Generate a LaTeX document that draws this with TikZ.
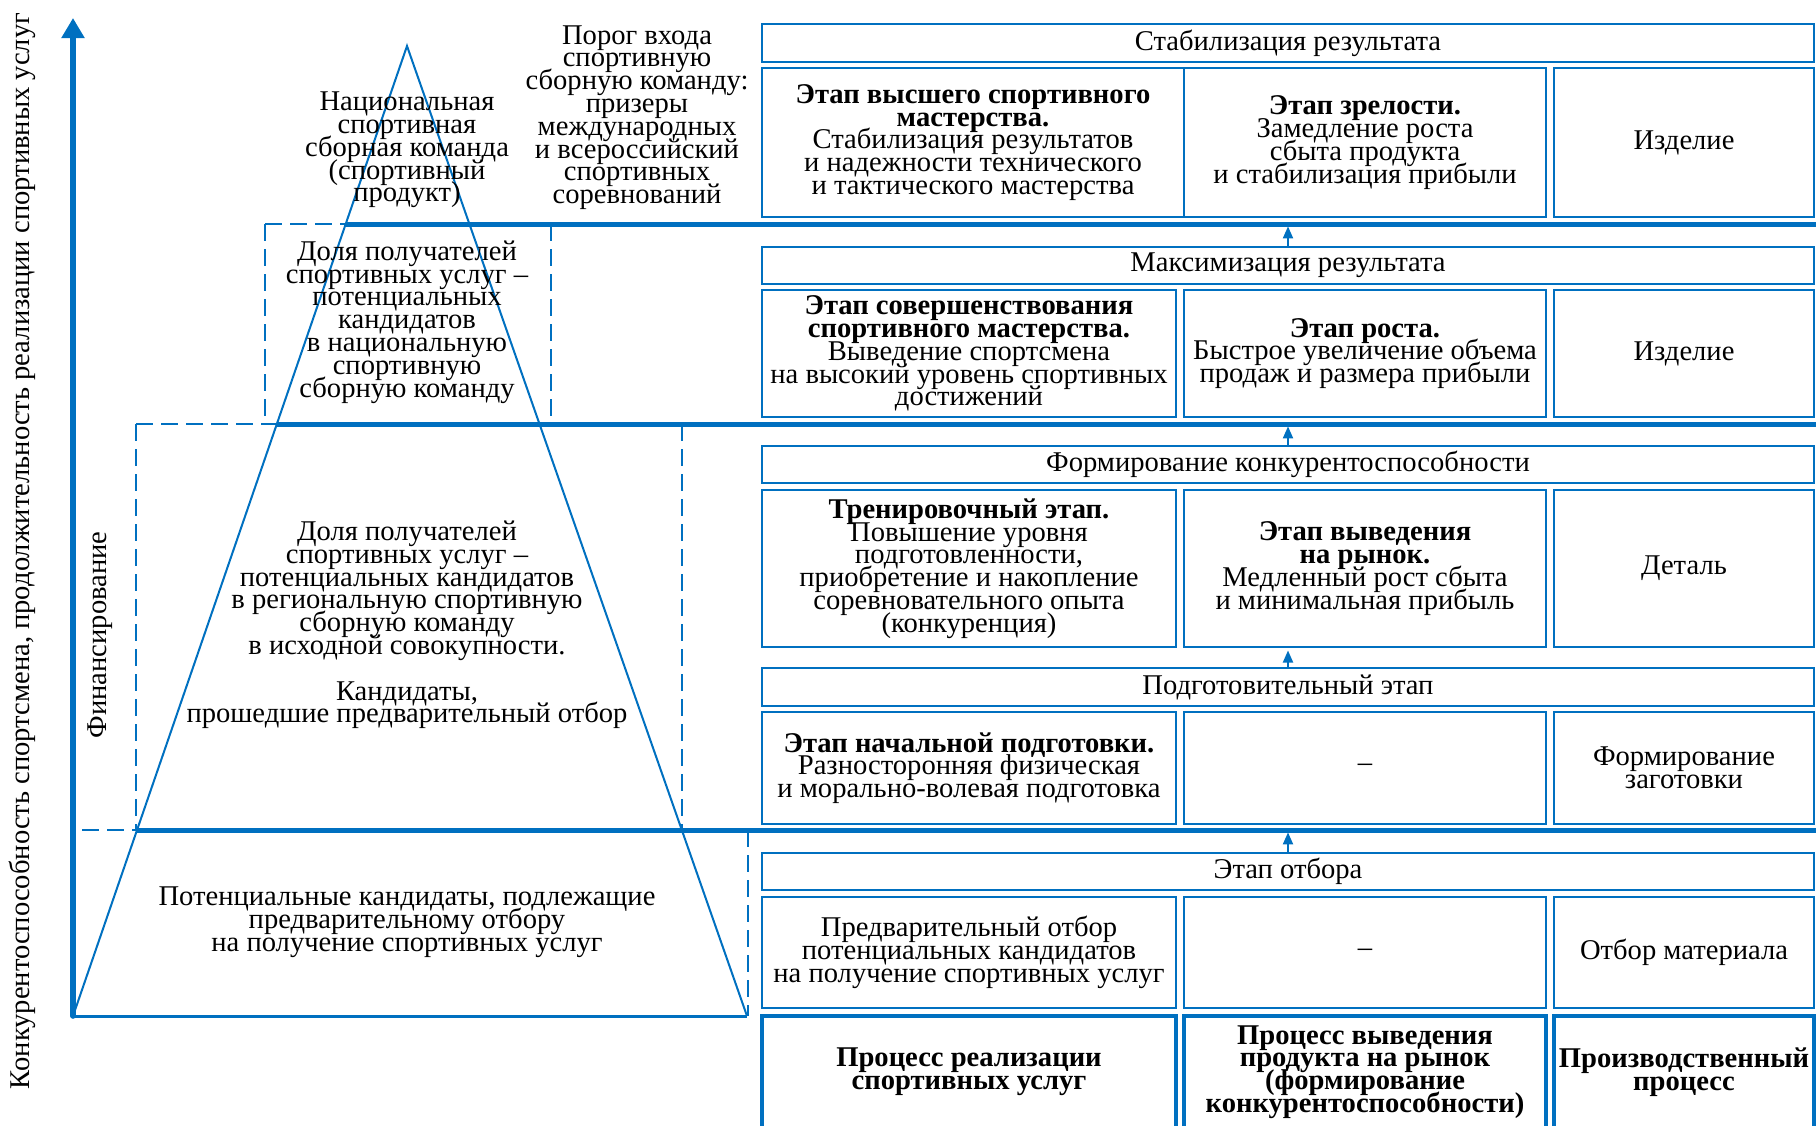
\documentclass[tikz,border=0pt]{standalone}
\usepackage{fontspec}
\setmainfont{Liberation Serif}
\usetikzlibrary{arrows.meta}
\definecolor{bl}{HTML}{0070C0}
\newcommand\mainfnt{\fontsize{14.3pt}{11.4pt}\selectfont\lineskiplimit=-30pt\lineskip=0pt}
\begin{document}
\begin{tikzpicture}[x=0.5pt,y=-0.5pt,
  font=\mainfnt,
  box/.style={draw=bl, line width=1.1pt, align=center, inner sep=0pt, anchor=center},
  hdr/.style={box, minimum width=526pt},
  pbox/.style={draw=bl, line width=2.2pt, align=center, inner sep=0pt, font=\mainfnt\bfseries},
  sep/.style={draw=bl, line width=2.5pt},
  dsh/.style={draw=bl, line width=1.4pt, dash pattern=on 8.5pt off 4pt},
  tri/.style={draw=bl, line width=1pt},
  upar/.style={draw=bl, line width=1pt, -{Triangle[width=5pt,length=6pt]}, shorten >=1.2pt},
  txt/.style={align=center, inner sep=0pt},
]
\useasboundingbox (0,0) rectangle (1816,1125);
% key coordinates
\coordinate (apex) at (407,46);
\coordinate (bl) at (73,1016);
\coordinate (br) at (747,1016);
\coordinate (top) at (73,18);
\coordinate (L1) at (345.7,224);
\coordinate (L2) at (276.8,424);
\coordinate (L3) at (137,830);
\coordinate (E1) at (1816,224);
\coordinate (E2) at (1816,424);
\coordinate (E3) at (1816,830);

% thick separators
\draw[sep] (L1) -- (E1);
\draw[sep] (L2) -- (E2);
\draw[sep] (L3) -- (E3);

% dashed frames
\draw[dsh] (265,224) -- (L1);
\draw[dsh] (265,224) -- (265,424);
\draw[dsh] (551,224) -- (551,424);
\draw[dsh] (136,424) -- (L2);
\draw[dsh] (136,424) -- (136,830);
\draw[dsh] (682,424) -- (682,830);
\draw[dsh] (82,830) -- (L3);
\draw[dsh] (748,830) -- (748,1016);

% pyramid
\draw[tri] (bl) -- (apex) -- (br);
\draw[bl, line width=1.5pt] (bl) -- (br);

% axis
\draw[bl, line width=2.8pt, line cap=round, -{Triangle[width=11pt,length=10pt]}] (bl) -- (top);

% pyramid texts
\node[txt] (nat) at (407,150) {Национальная\\спортивная\\сборная команда\\(спортивный\\продукт)};
\node[txt] (thr) at (637,117.5) {Порог входа\\спортивную\\сборную команду:\\призеры\\международных\\и всероссийский\\спортивных\\соревнований};
\node[txt] (d1) at (407,322) {Доля получателей\\спортивных услуг –\\потенциальных\\кандидатов\\в национальную\\спортивную\\сборную команду};
\node[txt] (d2) at (407,625) {Доля получателей\\спортивных услуг –\\потенциальных кандидатов\\в региональную спортивную\\сборную команду\\в исходной совокупности.\\[11.4pt]Кандидаты,\\прошедшие предварительный отбор};
\node[txt] (d3) at (407,922) {Потенциальные кандидаты, подлежащие\\предварительному отбору\\на получение спортивных услуг};
\node[txt, rotate=90] (fin) at (100,635) {Финансирование};
\node[txt, rotate=90] (ax) at (22,551) {Конкурентоспособность спортсмена, продолжительность реализации спортивных услуг};

% headers
\node[hdr, minimum height=19pt] (h1) at (1288,43) {Стабилизация результата};
\node[hdr, minimum height=18.5pt] (h2) at (1288,265.5) {Максимизация результата};
\node[hdr, minimum height=18.5pt] (h3) at (1288,464.5) {Формирование конкурентоспособности};
\node[hdr, minimum height=19pt] (h4) at (1288,687) {Подготовительный этап};
\node[hdr, minimum height=18.5pt] (h5) at (1288,871.5) {Этап отбора};

% row 1
\node[box, minimum width=211pt, minimum height=74.5pt] (r1a) at (973,142.5) {\textbf{Этап высшего спортивного}\\\textbf{мастерства.}\\Стабилизация результатов\\и надежности технического\\и тактического мастерства};
\node[box, minimum width=181pt, minimum height=74.5pt] (r1b) at (1365,142.5) {\textbf{Этап зрелости.}\\Замедление роста\\сбыта продукта\\и стабилизация прибыли};
\node[box, minimum width=130pt, minimum height=74.5pt] (r1c) at (1684,142.5) {Изделие};
% row 2
\node[box, minimum width=207pt, minimum height=63.5pt] (r2a) at (969,353.5) {\textbf{Этап совершенствования}\\\textbf{спортивного мастерства.}\\Выведение спортсмена\\на высокий уровень спортивных\\достижений};
\node[box, minimum width=181pt, minimum height=63.5pt] (r2b) at (1365,353.5) {\textbf{Этап роста.}\\Быстрое увеличение объема\\продаж и размера прибыли};
\node[box, minimum width=130pt, minimum height=63.5pt] (r2c) at (1684,353.5) {Изделие};
% row 3
\node[box, minimum width=207pt, minimum height=78.5pt] (r3a) at (969,568.5) {\textbf{Тренировочный этап.}\\Повышение уровня\\подготовленности,\\приобретение и накопление\\соревновательного опыта\\(конкуренция)};
\node[box, minimum width=181pt, minimum height=78.5pt] (r3b) at (1365,568.5) {\textbf{Этап выведения}\\\textbf{на рынок.}\\Медленный рост сбыта\\и минимальная прибыль};
\node[box, minimum width=130pt, minimum height=78.5pt] (r3c) at (1684,568.5) {Деталь};
% row 4
\node[box, minimum width=207pt, minimum height=56pt] (r4a) at (969,768) {\textbf{Этап начальной подготовки.}\\Разносторонняя физическая\\и морально-волевая подготовка};
\node[box, minimum width=181pt, minimum height=56pt] (r4b) at (1365,768) {–};
\node[box, minimum width=130pt, minimum height=56pt] (r4c) at (1684,768) {Формирование\\заготовки};
% row 5
\node[box, minimum width=207pt, minimum height=55.5pt] (r5a) at (969,952.5) {Предварительный отбор\\потенциальных кандидатов\\на получение спортивных услуг};
\node[box, minimum width=181pt, minimum height=55.5pt] (r5b) at (1365,952.5) {–};
\node[box, minimum width=130pt, minimum height=55.5pt] (r5c) at (1684,952.5) {Отбор материала};

% bottom process row (cut by the page edge)
\begin{scope}
\clip (0,0) rectangle (1816,1125);
\node[pbox, minimum width=207pt, minimum height=56pt] (p1) at (969,1072) {Процесс реализации\\спортивных услуг};
\node[pbox, minimum width=181pt, minimum height=56pt] (p2) at (1365,1072) {Процесс выведения\\продукта на рынок\\(формирование\\конкурентоспособности)};
\node[pbox, minimum width=130pt, minimum height=56pt] (p3) at (1684,1072) {Производственный\\процесс};
\end{scope}

% arrows
\draw[upar] (h2.north) -- (h2.north |- L1);
\draw[upar] (h3.north) -- (h3.north |- L2);
\draw[upar] (h4.north) -- (h4.north |- r3b.south);
\draw[upar] (h5.north) -- (h5.north |- L3);
\end{tikzpicture}
\end{document}
